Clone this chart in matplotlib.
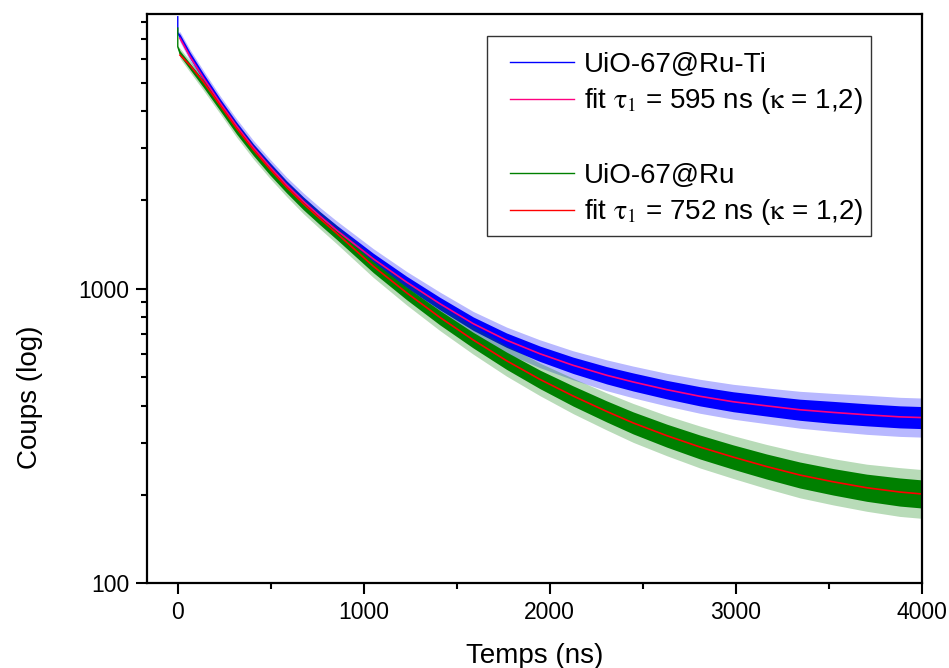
import matplotlib
matplotlib.use('Agg')
import matplotlib.pyplot as plt
from matplotlib.lines import Line2D
from matplotlib.patches import Rectangle
from matplotlib.ticker import LogLocator, NullFormatter, MultipleLocator

plt.rcParams['font.family'] = ['Liberation Sans', 'DejaVu Sans']
plt.rcParams['mathtext.fontset'] = 'stix'

# ---------------- data ----------------
# time grid (ns) for the fits
fit_t = [12, 65, 137, 227, 317, 406, 496, 585, 675, 765, 854, 1051, 1231, 1410,
         1589, 1768, 1947, 2126, 2306, 2449, 2629, 2808, 2987, 3166, 3345, 3524,
         3704, 3883, 4000]
ruti_fit = [7063, 6135, 5194, 4272, 3557, 3011, 2586, 2248, 1979, 1760, 1578, 1262,
            1051, 888, 760, 668, 601, 549, 508, 482, 454, 431, 413, 400, 388, 380,
            373, 367, 365]
ru_fit = [6197, 5731, 5033, 4193, 3491, 2960, 2542, 2208, 1941, 1726, 1541, 1191,
          967, 798, 669, 569, 492, 432, 383, 350, 317, 290, 268, 249, 233, 221,
          211, 204, 201]

# measured decays: centre line of the noisy trace
data_t = [0, 0, 12, 65, 137, 227, 317, 406, 496, 585, 675, 765, 854, 1051, 1231,
          1410, 1589, 1768, 1947, 2126, 2306, 2449, 2629, 2808, 2987, 3166, 3345,
          3524, 3704, 3883, 4000]
ruti_counts = [8360, 7360, 7150, 6200, 5230, 4290, 3560, 3010, 2590, 2250, 1980,
               1760, 1580, 1265, 1052, 889, 760, 668, 601, 549, 508, 482, 454,
               431, 413, 400, 388, 380, 373, 367, 365]
ru_counts = [7650, 6610, 6280, 5680, 4960, 4130, 3440, 2915, 2505, 2180, 1915,
             1705, 1525, 1183, 962, 796, 668, 569, 492, 432, 383, 350, 317, 290,
             268, 249, 233, 221, 211, 204, 201]

# half-width of the dense noise core and of the sparse spikes (% of the signal)
ruti_core_pct = [0.8, 0.8, 2.0, 2.4, 2.8, 2.8, 3.0, 3.0, 3.2, 3.2, 3.4, 3.6, 3.8, 4.2,
                 4.6, 5.0, 5.4, 5.8, 6.2, 6.6, 7.0, 7.3, 7.5, 7.8, 8.1, 8.3, 8.6,
                 9.0, 9.0, 9.0, 9.0]
ruti_spike_pct = [0.8, 0.8, 4.0, 4.6, 5.2, 5.2, 5.6, 5.8, 6.0, 6.2, 6.6, 7.0, 7.4,
                  8.0, 8.6, 9.4, 10.0, 10.8, 11.5, 12.0, 12.8, 13.2, 13.6, 14.2,
                  14.6, 15.0, 15.5, 16.0, 16.5, 16.5, 16.5]
ru_core_pct = [0.8, 0.8, 2.0, 2.4, 2.8, 2.8, 3.0, 3.0, 3.2, 3.2, 3.4, 3.6, 3.8, 4.4,
               5.0, 5.8, 6.3, 7.0, 7.5, 8.2, 8.6, 9.0, 9.4, 9.8, 10.0, 10.3, 10.7,
               10.9, 11.2, 11.6, 11.6]
ru_spike_pct = [0.8, 0.8, 4.0, 4.6, 5.2, 5.2, 5.6, 5.8, 6.0, 6.2, 6.6, 7.0, 7.4,
                8.4, 9.4, 10.6, 11.6, 12.8, 13.6, 14.8, 15.6, 16.4, 17.0, 17.8,
                18.2, 18.8, 19.5, 19.8, 20.2, 21.0, 21.0]

x_ticks = [0, 1000, 2000, 3000, 4000]
y_ticks = [100, 1000]
labels = ['UiO-67@Ru-Ti',
          r'fit $\mathrm{\tau}_{1}$ = 595 ns ($\mathrm{\kappa}$ = 1,2)', '',
          'UiO-67@Ru',
          r'fit $\mathrm{\tau}_{1}$ = 752 ns ($\mathrm{\kappa}$ = 1,2)']

C_RUTI = '#0000FF'
C_RUTI_FIT = '#FF0080'
C_RU = '#008000'
C_RU_FIT = '#FF0000'

# ---------------- figure ----------------
fig = plt.figure(figsize=(9.49, 6.68), dpi=100)
ax = fig.add_axes([0.1546, 0.1268, 0.8166, 0.8522])


def band(vals, pct, sign):
    return [v * (1 + p / 100.0) if sign > 0 else v / (1 + p / 100.0)
            for v, p in zip(vals, pct)]


for counts, core, spike, col in [(ruti_counts, ruti_core_pct, ruti_spike_pct, C_RUTI),
                                 (ru_counts, ru_core_pct, ru_spike_pct, C_RU)]:
    ax.fill_between(data_t, band(counts, spike, -1), band(counts, spike, 1),
                    color=col, alpha=0.28, lw=0)
    ax.fill_between(data_t, band(counts, core, -1), band(counts, core, 1),
                    color=col, alpha=1.0, lw=0)
    ax.plot(data_t, counts, color=col, lw=1.0)

ax.plot(fit_t, ruti_fit, color=C_RUTI_FIT, lw=1.2)
ax.plot(fit_t, ru_fit, color=C_RU_FIT, lw=1.2)

ax.set_yscale('log')
ax.set_ylim(100, 8540)
ax.set_xlim(-167, 4000)

ax.set_xticks(x_ticks)
ax.set_xticklabels([str(v) for v in x_ticks])
ax.xaxis.set_minor_locator(MultipleLocator(500))
ax.set_yticks(y_ticks)
ax.set_yticklabels([str(v) for v in y_ticks])
ax.yaxis.set_minor_locator(LogLocator(base=10, subs=[2, 3, 4, 5, 6, 7, 8, 9]))
ax.yaxis.set_minor_formatter(NullFormatter())

ax.tick_params(which='major', direction='out', length=7.7, width=1.5,
               labelsize=16.5, pad=5, top=False, right=False)
ax.tick_params(which='minor', direction='out', length=4.3, width=1.5,
               top=False, right=False)
for s in ax.spines.values():
    s.set_linewidth(1.6)

ax.set_xlabel('Temps (ns)', fontsize=20)
ax.set_ylabel('Coups (log)', fontsize=20)
ax.xaxis.set_label_coords(0.5, -0.105)
ax.yaxis.set_label_coords(-0.134, 0.327)

# legend frame drawn separately (wide left margin as in the original)
ax.add_patch(Rectangle((0.4391, 0.6101), 0.4955, 0.3513, transform=ax.transAxes,
                       facecolor='white', edgecolor='#333333', lw=1.0, zorder=4))

handles = [Line2D([], [], color=C_RUTI, lw=1.0),
           Line2D([], [], color=C_RUTI_FIT, lw=1.0),
           Line2D([], [], color='none', lw=0),
           Line2D([], [], color=C_RU, lw=1.0),
           Line2D([], [], color=C_RU_FIT, lw=1.0)]
shown = list(labels)
shown[2] = labels[1]
leg = ax.legend(handles, shown, loc='upper left', bbox_to_anchor=(0.4688, 0.9332),
                borderaxespad=0, fontsize=20, frameon=False, handlelength=2.3,
                handletextpad=0.36, labelspacing=0.3, borderpad=0.0)
leg.set_zorder(5)
leg.get_texts()[2].set_color('none')

fig.savefig('out.png', dpi=100)
